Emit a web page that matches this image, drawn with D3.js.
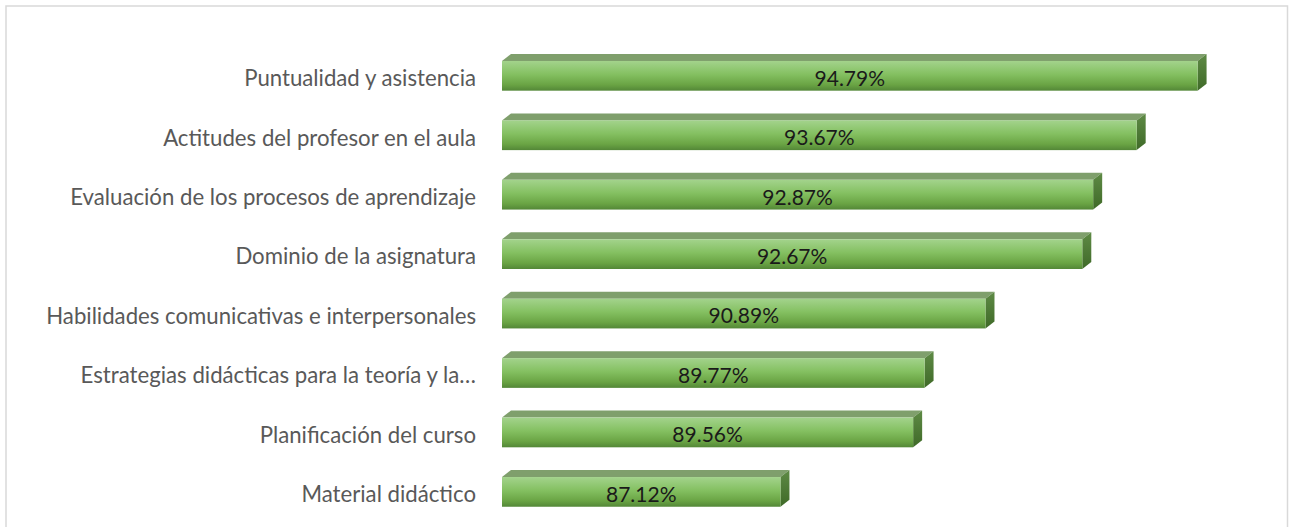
<!DOCTYPE html>
<html><head><meta charset="utf-8">
<script src="https://cdn.jsdelivr.net/npm/d3@7"></script>
<style>body{margin:0;background:#fff}svg{display:block}</style>
</head><body>
<script>
const categories = ["Puntualidad y asistencia","Actitudes del profesor en el aula","Evaluación de los procesos de aprendizaje","Dominio de la asignatura","Habilidades comunicativas e interpersonales","Estrategias didácticas para la teoría y la…","Planificación del curso","Material didáctico"];
const values = [94.79,93.67,92.87,92.67,90.89,89.77,89.56,87.12];
const labels = ["94.79%","93.67%","92.87%","92.67%","90.89%","89.77%","89.56%","87.12%"];

const W=1295,H=527;
const svg=d3.select("body").append("svg").attr("width",W).attr("height",H);
const defs=svg.append("defs");
const g1=defs.append("linearGradient").attr("id","front").attr("x1",0).attr("y1",0).attr("x2",0).attr("y2",1);
g1.append("stop").attr("offset","0%").attr("stop-color","#a3d38c");
g1.append("stop").attr("offset","45%").attr("stop-color","#84c061");
g1.append("stop").attr("offset","80%").attr("stop-color","#6aa444");
g1.append("stop").attr("offset","100%").attr("stop-color","#538737");
const g2=defs.append("linearGradient").attr("id","side").attr("x1",0).attr("y1",0).attr("x2",0).attr("y2",1);
g2.append("stop").attr("offset","0%").attr("stop-color","#5e8a45");
g2.append("stop").attr("offset","100%").attr("stop-color","#3f6a28");

// frame
svg.append("rect").attr("x",6).attr("y",6).attr("width",1281.5).attr("height",H).attr("fill","none").attr("stroke","#d9d9d9").attr("stroke-width",1.5);

const x=d3.scaleLinear().domain([82,95]).range([502,1209]);
const y=d3.scaleBand().domain(categories).range([46.1,521.6]).paddingInner(0.5).paddingOuter(0.25);
const dx=9, dy=7;

const bars=svg.append("g").selectAll("g").data(categories).join("g");
bars.each(function(c,i){
  const gg=d3.select(this);
  const x0=x(82), x1=x(values[i]), y0=y(c), h=y.bandwidth();
  gg.append("path").attr("d",`M${x0},${y0}L${x0+dx},${y0-dy}L${x1+dx},${y0-dy}L${x1},${y0}Z`).attr("fill","#7f9f6c");
  gg.append("path").attr("d",`M${x1},${y0}L${x1+dx},${y0-dy}L${x1+dx},${y0+h-dy}L${x1},${y0+h}Z`).attr("fill","url(#side)");
  gg.append("rect").attr("x",x0).attr("y",y0).attr("width",x1-x0).attr("height",h).attr("fill","url(#front)");
  gg.append("text").attr("x",(x0+x1)/2).attr("y",y0+h/2+2.5).attr("dy","0.35em").attr("text-anchor","middle")
    .attr("font-family","Lato, 'Open Sans', sans-serif").attr("font-size",21).attr("fill","#1a1a1a").text(labels[i]);
  gg.append("text").attr("x",476).attr("y",y0+h/2+2.5).attr("dy","0.35em").attr("text-anchor","end")
    .attr("font-family","Lato, 'Open Sans', sans-serif").attr("font-size",22.2).attr("fill","#595959").text(c);
});
</script>
</body></html>
